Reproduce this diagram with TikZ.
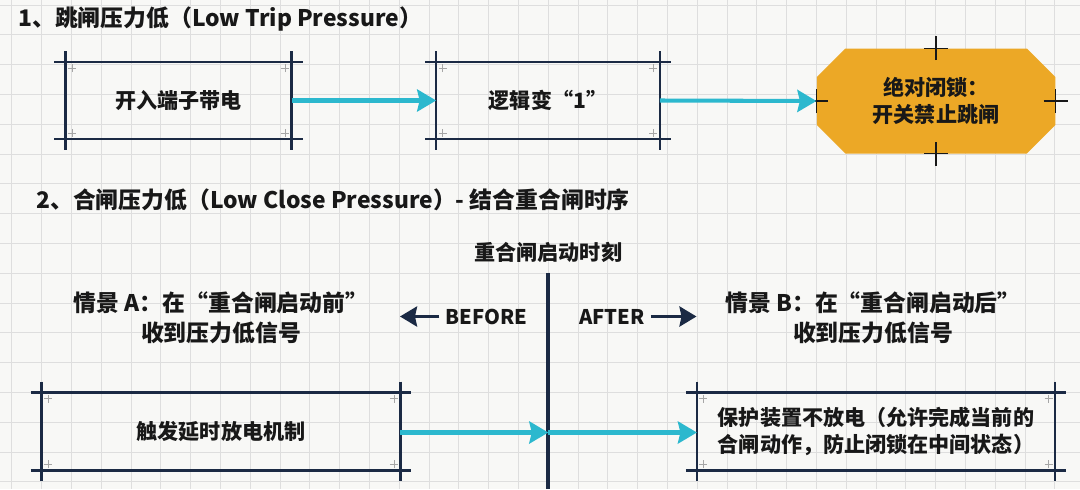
\documentclass[tikz,border=0pt]{standalone}
\usepackage{fontspec}
\setmainfont{Noto Sans CJK SC}
\usetikzlibrary{positioning}
\usetikzlibrary{arrows.meta}

\definecolor{navy}{RGB}{27,42,68}
\definecolor{flowcyan}{RGB}{44,184,206}
\definecolor{lockfill}{RGB}{236,168,38}
\definecolor{paper}{RGB}{248,248,246}
\definecolor{gridgray}{RGB}{222,222,222}
\definecolor{ink}{RGB}{24,24,24}

\newcommand{\cropframe}[1]{%
  \draw[frameline] ([xshift=-0.22cm]#1.north west) -- ([xshift=0.22cm]#1.north east);
  \draw[frameline] ([xshift=-0.22cm]#1.south west) -- ([xshift=0.22cm]#1.south east);
  \draw[frameline] ([yshift=0.22cm]#1.north west) -- ([yshift=-0.22cm]#1.south west);
  \draw[frameline] ([yshift=0.22cm]#1.north east) -- ([yshift=-0.22cm]#1.south east);
  \foreach \corner/\sx/\sy in {north west/1/-1, north east/-1/-1, south west/1/1, south east/-1/1}
    \draw[cornertick] ([shift={(\sx*0.13,\sy*0.12)}]#1.\corner) ++(-0.08,0) -- ++(0.16,0) ++(-0.08,-0.08) -- ++(0,0.16);
}

\begin{document}
\begin{tikzpicture}
\pgfmathsetmacro{\GAP}{0.596}
\pgfmathsetmacro{\XTL}{10.966}
\pgfmathsetmacro{\CUT}{0.57}

\tikzset{
  gridline/.style={draw=gridgray, line width=0.5pt},
  heading/.style={anchor=west, inner sep=0pt, text=ink, font=\bfseries\fontsize{13}{16}\selectfont},
  frame/.style={rectangle, align=center, minimum height=1.52cm, text=ink,
    font=\bfseries\fontsize{12}{15.2}\selectfont},
  frameline/.style={draw=navy, line width=1.4pt},
  cornertick/.style={draw=gray!70, line width=0.4pt},
  lock/.style={rectangle, minimum width=4.77cm, minimum height=2.1cm, align=center, text=ink,
    font=\bfseries\fontsize{12}{15.2}\selectfont,
    path picture={
      \fill[lockfill]
        ([xshift=\CUT cm]path picture bounding box.north west) --
        ([xshift=-\CUT cm]path picture bounding box.north east) --
        ([yshift=-\CUT cm]path picture bounding box.north east) --
        ([yshift=\CUT cm]path picture bounding box.south east) --
        ([xshift=-\CUT cm]path picture bounding box.south east) --
        ([xshift=\CUT cm]path picture bounding box.south west) --
        ([yshift=\CUT cm]path picture bounding box.south west) --
        ([yshift=-\CUT cm]path picture bounding box.north west) -- cycle;
    }},
  crossmark/.style={draw=ink, line width=0.7pt},
  case/.style={align=center, text=ink, font=\bfseries\fontsize{13}{17}\selectfont},
  tag/.style={text=ink, font=\bfseries\fontsize{11.5}{14}\selectfont},
  timeline/.style={draw=navy, line width=2.2pt},
  flow/.style={draw=flowcyan, line width=2.3pt, -{Stealth[length=0.38cm, width=0.44cm, inset=0.05cm]}},
  timeflow/.style={draw=navy, line width=1.9pt, -{Stealth[length=0.34cm, width=0.4cm, inset=0.04cm]}},
}

\fill[paper] (0,0) rectangle (21.6,-9.78);
\useasboundingbox (0,0) rectangle (21.6,-9.78);
\foreach \k in {0,...,35}
  \draw[gridline] ({0.238+\k*\GAP},0) -- ({0.238+\k*\GAP},-9.78);
\foreach \k in {0,...,16}
  \draw[gridline] (0,{-0.1-\k*\GAP}) -- (21.6,{-0.1-\k*\GAP});

\node[heading] (title1) at (0.36,-0.38) {1、跳闸压力低（Low Trip Pressure）};

\node[frame, minimum width=4.51cm] (input) at (3.57,-2.01) {开入端子带电};
\node[frame, minimum width=4.46cm] (logic) at (10.96,-2.01) {逻辑变“1”};
\node[lock] (lock) at (18.72,-2.02) {绝对闭锁：\\开关禁止跳闸};
\cropframe{input}
\cropframe{logic}
\foreach \side in {north,south,east,west}
  \draw[crossmark] ([xshift=-0.24cm]lock.\side) -- ([xshift=0.24cm]lock.\side)
                   ([yshift=-0.24cm]lock.\side) -- ([yshift=0.24cm]lock.\side);

\draw[flow] (input.east) -- (logic.west);
\draw[flow] (logic.east) -- (lock.west);

\node[heading] (title2) at (0.72,-3.99) {2、合闸压力低（Low Close Pressure）- 结合重合闸时序};

\node[tag, font=\bfseries\fontsize{12}{14}\selectfont] (moment) at (\XTL,-5.04) {重合闸启动时刻};
\coordinate (tltop) at (\XTL,-5.45);
\coordinate (tlbot) at (\XTL,-9.78);
\coordinate (tlmid) at (\XTL,-8.65);
\draw[timeline] (tltop) -- (tlbot);

\node[case] (caseA) at (4.42,-6.36) {情景 A：在“重合闸启动前”\\收到压力低信号};
\node[case] (caseB) at (17.46,-6.36) {情景 B：在“重合闸启动后”\\收到压力低信号};

\node[tag] (before) at (9.73,-6.33) {BEFORE};
\node[tag] (after) at (12.24,-6.33) {AFTER};
\coordinate (beforetip) at (8.0,-6.33);
\coordinate (aftertip) at (13.93,-6.33);
\draw[timeflow] (before.west) -- (beforetip);
\draw[timeflow] (after.east) -- (aftertip);

\node[frame, minimum width=7.16cm, minimum height=1.54cm] (delay) at (4.42,-8.63) {触发延时放电机制};
\node[frame, minimum width=7.15cm, minimum height=1.54cm] (hold) at (17.52,-8.63)
  {保护装置不放电（允许完成当前的\\合闸动作，防止闭锁在中间状态）};
\cropframe{delay}
\cropframe{hold}

\draw[flow] (delay.east |- tlmid) -- (tlmid);
\draw[flow] (tlmid) -- (hold.west |- tlmid);
\end{tikzpicture}
\end{document}
